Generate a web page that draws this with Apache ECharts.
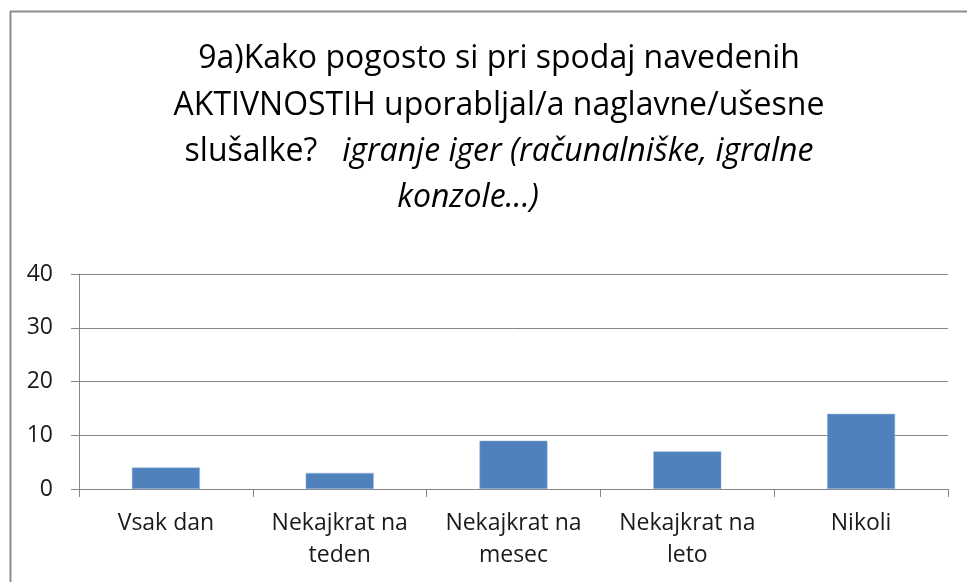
<!DOCTYPE html>
<html><head><meta charset="utf-8">
<script src="https://cdn.jsdelivr.net/npm/echarts@6/dist/echarts.min.js"></script>
<style>html,body{margin:0;padding:0;background:#fff}#c{width:967px;height:582px}</style>
</head><body><div id="c"></div>
<script>
var categories = ['Vsak dan', 'Nekajkrat na\nteden', 'Nekajkrat na\nmesec', 'Nekajkrat na\nleto', 'Nikoli'];
var values = [4, 3, 9, 7, 14];
var yTicks = [0, 10, 20, 30, 40];

var FONT = '"Open Sans", sans-serif';
var TS = 32;
var LS = 23;
var chart = echarts.init(document.getElementById('c'));
chart.setOption({
  animation: false,
  backgroundColor: '#ffffff',
  title: [
    {text: '9a)Kako pogosto si pri spodaj navedenih', left: 494, top: 38, textAlign: 'center',
     textStyle: {fontFamily: FONT, fontSize: TS, fontWeight: 'normal', color: '#000'}},
    {text: 'AKTIVNOSTIH uporabljal/a naglavne/ušesne', left: 494, top: 85, textAlign: 'center',
     textStyle: {fontFamily: FONT, fontSize: TS, fontWeight: 'normal', color: '#000'}},
    {text: '{n|slušalke?   }{i|igranje iger (računalniške, igralne}', left: 494, top: 131, textAlign: 'center',
     textStyle: {fontFamily: FONT, fontSize: TS, fontWeight: 'normal', color: '#000',
       rich: {n: {fontFamily: FONT, fontSize: TS, color: '#000'}, i: {fontFamily: FONT, fontSize: TS, fontStyle: 'italic', color: '#000'}}}},
    {text: 'konzole...)', left: 463, top: 177, textAlign: 'center',
     textStyle: {fontFamily: FONT, fontSize: TS, fontWeight: 'normal', fontStyle: 'italic', color: '#000'}}
  ],
  graphic: [
    {type: 'line', shape: {x1: 10, y1: 11.5, x2: 967, y2: 11.5}, style: {stroke: '#8c8c8c', lineWidth: 2}},
    {type: 'line', shape: {x1: 10.5, y1: 11, x2: 10.5, y2: 582}, style: {stroke: '#8c8c8c', lineWidth: 2}}
  ],
  grid: {left: 79, right: 19, top: 274, bottom: 93, containLabel: false},
  xAxis: {
    type: 'category', data: categories,
    axisLine: {lineStyle: {color: '#868686', width: 1}},
    axisTick: {show: true, alignWithLabel: false, length: 8, lineStyle: {color: '#868686'}},
    axisLabel: {fontFamily: FONT, fontSize: LS, color: '#1a1a1a', margin: 18, lineHeight: 32, interval: 0}
  },
  yAxis: {
    type: 'value', min: yTicks[0], max: yTicks[yTicks.length - 1], interval: 10,
    axisLine: {show: true, lineStyle: {color: '#868686', width: 1}},
    axisTick: {show: true, length: 8, lineStyle: {color: '#868686'}},
    splitLine: {lineStyle: {color: '#868686', width: 1}},
    axisLabel: {fontFamily: FONT, fontSize: LS, color: '#1a1a1a', margin: 26}
  },
  series: [{
    type: 'bar', data: values, barWidth: 68,
    itemStyle: {color: '#4f81bd', borderColor: '#9bb8db', borderWidth: 0.5}
  }]
});
</script></body></html>
